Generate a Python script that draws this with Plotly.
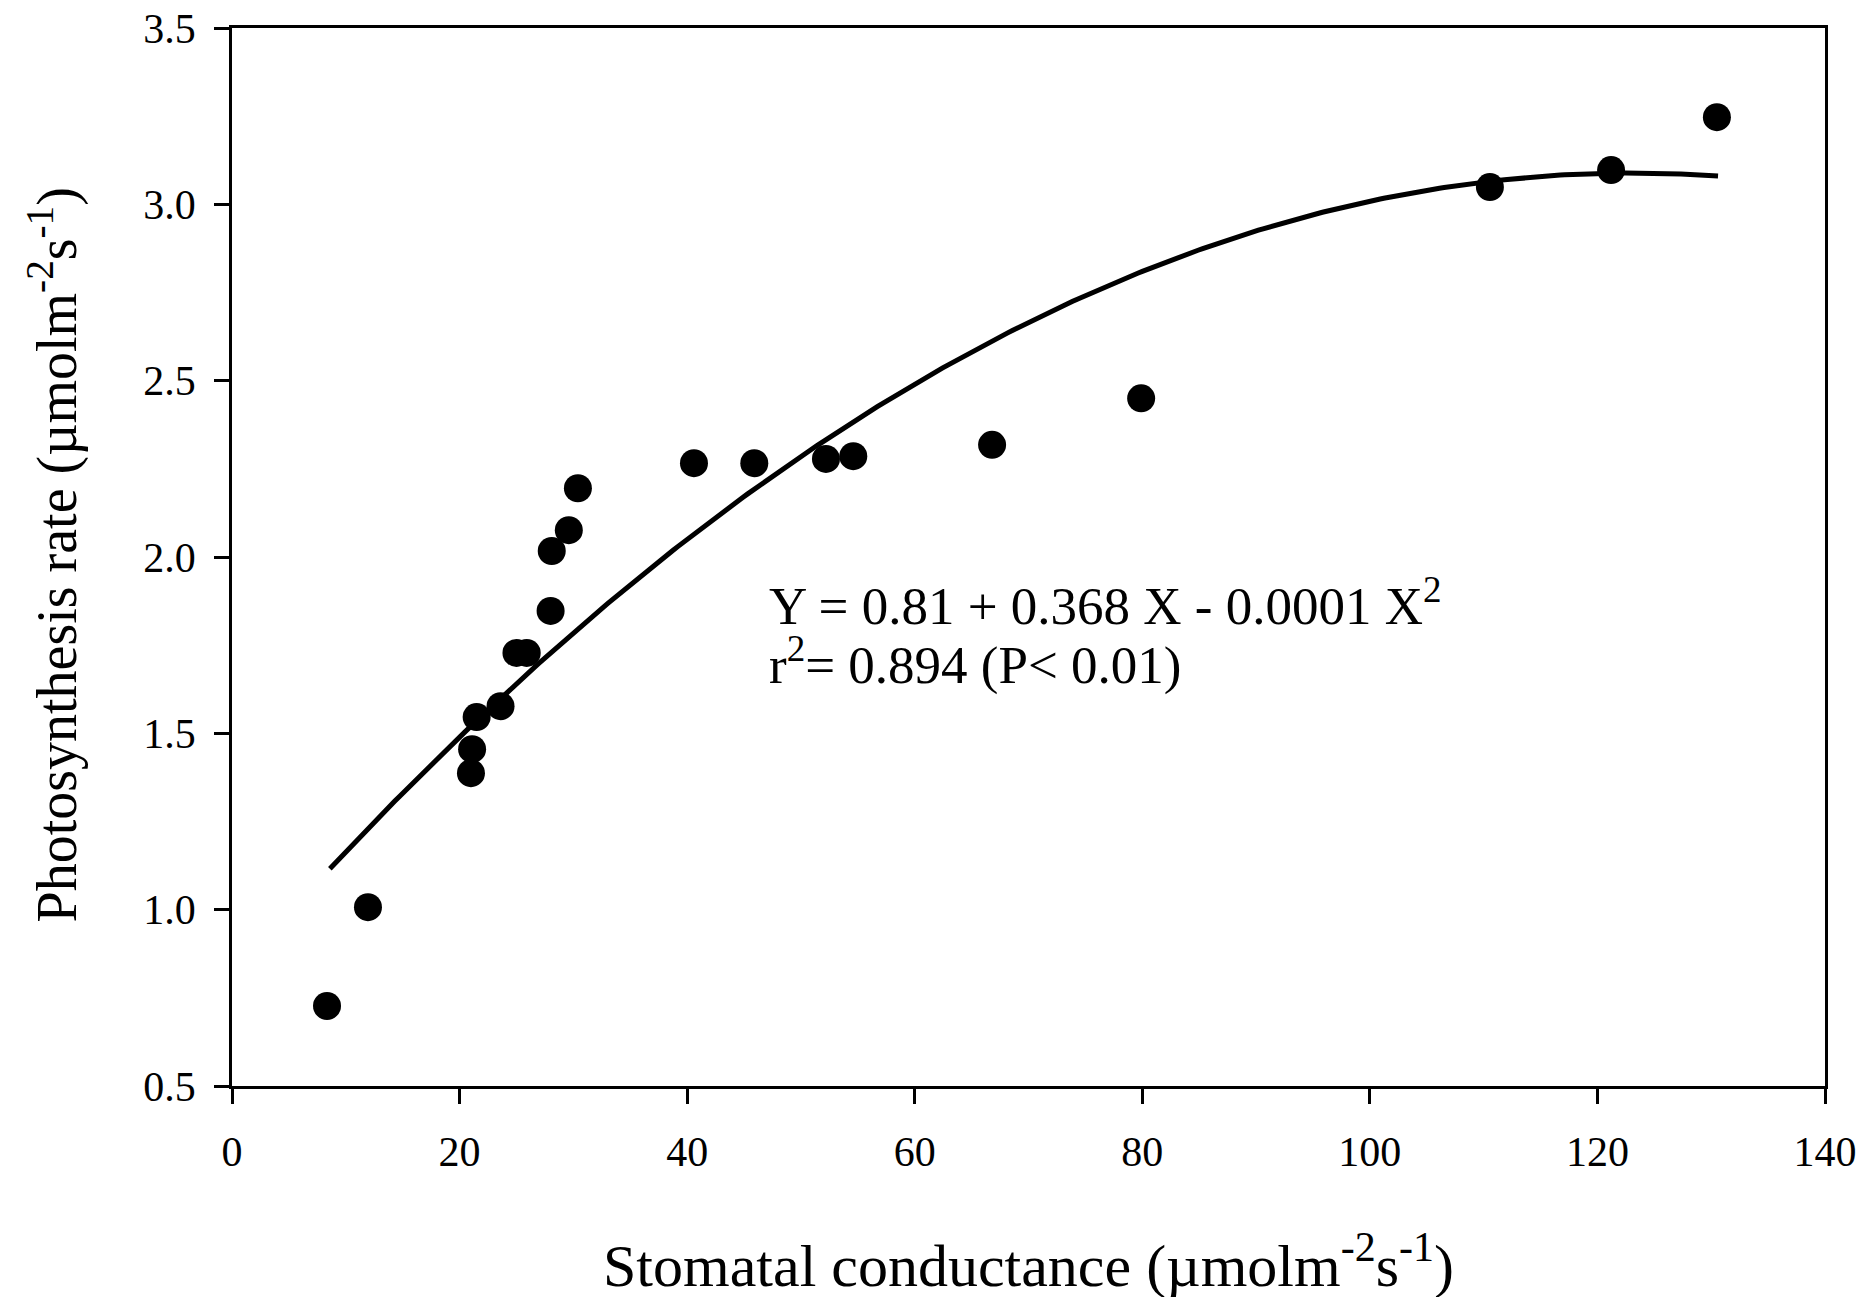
import numpy as np
import plotly.graph_objects as go

# Observed data (stomatal conductance vs photosynthesis rate)
conductance = [8.35, 11.95, 21.0, 21.1, 21.5, 23.6, 25.0, 25.9, 28.0, 28.1, 29.6, 30.4,
               40.6, 45.9, 52.2, 54.6, 66.8, 79.9, 110.55, 121.2, 130.5]
photosynthesis = [0.727, 1.007, 1.387, 1.455, 1.546, 1.577, 1.728, 1.728, 1.847, 2.017, 2.076, 2.195,
                  2.266, 2.266, 2.278, 2.286, 2.318, 2.45, 3.049, 3.097, 3.247]

# Quadratic fit curve coefficients (a + b*X + c*X^2) and its x-span
fit_coef = [0.808, 0.03708, -0.0001507]
fit_range = [8.6, 130.6]

x_ticks = [0, 20, 40, 60, 80, 100, 120, 140]
y_ticks = [0.5, 1.0, 1.5, 2.0, 2.5, 3.0, 3.5]

eq_line1 = "Y = 0.81 + 0.368 X - 0.0001 X<sup>2</sup>"
eq_line2 = "r<sup>2</sup>= 0.894 (P&lt; 0.01)"
x_title = "Stomatal conductance (µmolm<sup>-2</sup>s<sup>-1</sup>)"
y_title = "Photosynthesis rate (µmolm<sup>-2</sup>s<sup>-1</sup>)"

FONT = "Liberation Serif, Times New Roman, serif"

xf = np.linspace(fit_range[0], fit_range[1], 300)
yf = fit_coef[0] + fit_coef[1] * xf + fit_coef[2] * xf ** 2

fig = go.Figure()
fig.add_trace(go.Scatter(x=xf, y=yf, mode="lines",
                         line=dict(color="black", width=5), showlegend=False,
                         hoverinfo="skip"))
fig.add_trace(go.Scatter(x=conductance, y=photosynthesis, mode="markers",
                         marker=dict(color="black", size=28, line=dict(width=0)),
                         showlegend=False))

axis_common = dict(showgrid=False, zeroline=False, showline=True, linecolor="black",
                   linewidth=2.5, mirror=True, ticks="outside", ticklen=15,
                   tickwidth=2.5, tickcolor="black", automargin=False,
                   ticklabeloverflow="allow",
                   tickfont=dict(family=FONT, size=42, color="black"))

fig.update_xaxes(range=[0, 140], tickvals=x_ticks, ticklabelstandoff=12, **axis_common)
fig.update_yaxes(range=[0.5, 3.5], tickvals=y_ticks, tickformat=".1f",
                 ticklabelstandoff=10, **axis_common)

fig.add_annotation(x=47.0, y=1.871, xref="x", yref="y", text=eq_line1, showarrow=False,
                   xanchor="left", yanchor="middle", align="left",
                   font=dict(family=FONT, size=53, color="black"))
fig.add_annotation(x=47.0, y=1.704, xref="x", yref="y", text=eq_line2, showarrow=False,
                   xanchor="left", yanchor="middle", align="left",
                   font=dict(family=FONT, size=53, color="black"))

fig.add_annotation(x=0.5, y=-0.166, xref="paper", yref="paper", text=x_title,
                   showarrow=False, xanchor="center", yanchor="middle",
                   font=dict(family=FONT, size=60, color="black"))
fig.add_annotation(x=-0.112, y=0.502, xref="paper", yref="paper", text=y_title,
                   showarrow=False, xanchor="center", yanchor="middle", textangle=-90,
                   font=dict(family=FONT, size=56, color="black"))

# page body has an 8px offset, so the figure is 8px smaller and margins shifted
fig.update_layout(width=1856, height=1289,
                  margin=dict(l=224, r=39, t=20, b=211),
                  paper_bgcolor="white", plot_bgcolor="white",
                  font=dict(family=FONT, color="black"))

fig.write_html("out.html")
